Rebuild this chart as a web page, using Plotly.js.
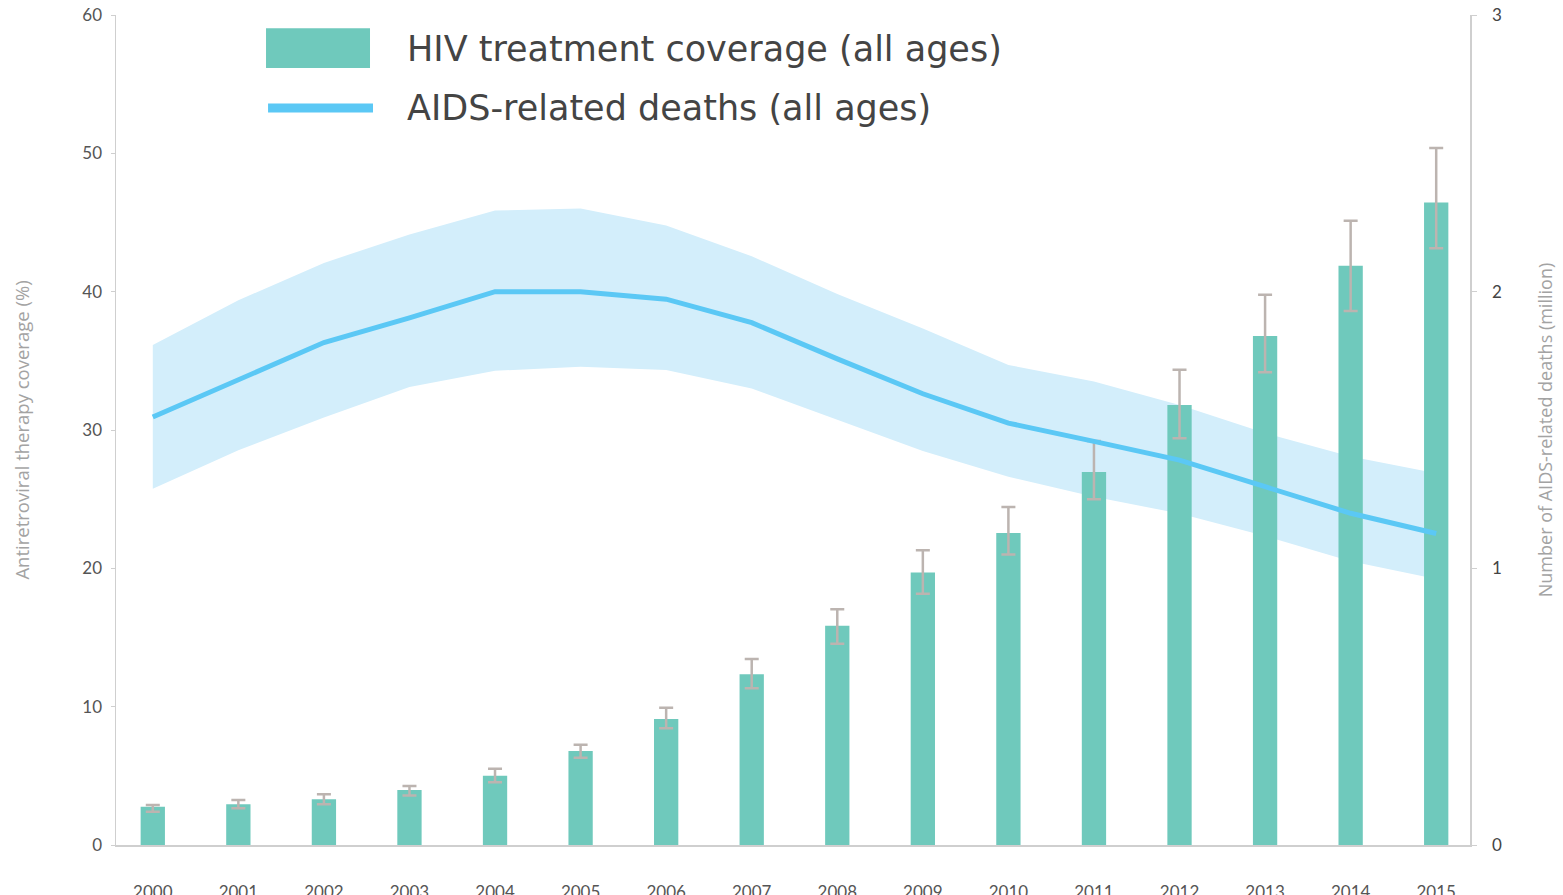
<!DOCTYPE html>
<html>
<head>
<meta charset="utf-8">
<script src="https://cdn.plot.ly/plotly-3.0.1.min.js"></script>
<style>html,body{margin:0;padding:0;background:#fff;}#chart{width:1563px;height:895px;}</style>
</head>
<body>
<div id="chart"></div>
<script>
const years = [2000, 2001, 2002, 2003, 2004, 2005, 2006, 2007, 2008, 2009, 2010, 2011, 2012, 2013, 2014, 2015];
const yearLabels = ["2000", "2001", "2002", "2003", "2004", "2005", "2006", "2007", "2008", "2009", "2010", "2011", "2012", "2013", "2014", "2015"];

// HIV treatment coverage (%), with uncertainty bounds
const coverage     = [2.77, 2.94, 3.30, 3.98, 5.00, 6.80, 9.10, 12.35, 15.85, 19.70, 22.55, 26.97, 31.80, 36.80, 41.87, 46.44];
const coverageHigh = [2.90, 3.26, 3.67, 4.27, 5.52, 7.24, 9.93, 13.44, 17.05, 21.30, 24.43, 29.20, 34.35, 39.77, 45.12, 50.38];
const coverageLow  = [2.40, 2.65, 2.94, 3.57, 4.54, 6.30, 8.44, 11.34, 14.54, 18.16, 21.00, 25.00, 29.40, 34.18, 38.60, 43.14];

// AIDS-related deaths (million), with uncertainty bounds
const deaths     = [1.547, 1.680, 1.816, 1.905, 2.000, 2.000, 1.973, 1.888, 1.757, 1.631, 1.525, 1.459, 1.391, 1.295, 1.199, 1.126];
const deathsHigh = [1.807, 1.969, 2.104, 2.207, 2.293, 2.301, 2.239, 2.128, 1.992, 1.867, 1.735, 1.675, 1.590, 1.489, 1.404, 1.344];
const deathsLow  = [1.288, 1.427, 1.545, 1.655, 1.714, 1.729, 1.717, 1.650, 1.537, 1.424, 1.331, 1.259, 1.198, 1.117, 1.026, 0.961];

const leftTicks = [0, 10, 20, 30, 40, 50, 60];
const rightTicks = [0, 1, 2, 3];

const seriesNames = ["HIV treatment coverage (all ages)", "AIDS-related deaths (all ages)"];
const leftTitle = "Antiretroviral therapy coverage (%)";
const rightTitle = "Number of AIDS-related deaths (million)";

const teal = "#6fc9bc";
const blue = "#5bc8f5";
const band = "#d3eefb";
const errColor = "#bcb4b0";
const axisColor = "#cfcfcf";
const font = "Lato, 'Open Sans', sans-serif";
const titleFont = "'Open Sans', sans-serif";
const legendFont = "'DejaVu Sans', sans-serif";

const traces = [
  {
    x: years, y: deathsHigh, yaxis: "y", type: "scatter", mode: "lines",
    line: {width: 0, color: band}, showlegend: false, hoverinfo: "skip"
  },
  {
    x: years, y: deathsLow, yaxis: "y", type: "scatter", mode: "lines",
    line: {width: 0, color: band}, fill: "tonexty", fillcolor: band,
    showlegend: false, hoverinfo: "skip"
  },
  {
    x: years, y: coverage, yaxis: "y2", type: "bar", name: seriesNames[0],
    width: 0.284,
    marker: {color: teal},
    error_y: {
      type: "data", symmetric: false,
      array: coverageHigh.map((v, i) => v - coverage[i]),
      arrayminus: coverage.map((v, i) => v - coverageLow[i]),
      color: errColor, thickness: 2.5, width: 7
    }
  },
  {
    x: years, y: deaths, yaxis: "y3", type: "scatter", mode: "lines", name: seriesNames[1],
    line: {color: blue, width: 5}
  }
];

const layout = {
  width: 1563, height: 895,
  margin: {l: 116, r: 93, t: 15, b: 50},
  paper_bgcolor: "#ffffff", plot_bgcolor: "#ffffff",
  showlegend: false,
  font: {family: font, color: "#555"},
  xaxis: {
    range: [1999.57, 2015.395],
    tickvals: years, ticktext: yearLabels,
    showline: true, linecolor: axisColor, linewidth: 1.5,
    ticks: "outside", ticklen: 2, tickcolor: "rgba(0,0,0,0)",
    ticklabelstandoff: 29,
    tickfont: {size: 17, color: "#555", family: font},
    showgrid: false, zeroline: false, fixedrange: true
  },
  yaxis: {
    side: "right", range: [0, 3], tickvals: rightTicks,
    showline: true, linecolor: axisColor, linewidth: 1.5,
    ticks: "outside", ticklen: 5, tickcolor: axisColor,
    ticklabelstandoff: 12,
    tickfont: {size: 17, color: "#444", family: font},
    showgrid: false, zeroline: false,
    title: {text: rightTitle, font: {size: 18, color: "#a3a3a3", family: titleFont}, standoff: 38}
  },
  yaxis2: {
    overlaying: "y", side: "left", range: [0, 60], tickvals: leftTicks,
    showline: true, linecolor: axisColor, linewidth: 1.5,
    ticks: "outside", ticklen: 4, tickcolor: axisColor,
    ticklabelstandoff: 5,
    tickfont: {size: 17, color: "#555", family: font},
    showgrid: false, zeroline: false,
    title: {text: leftTitle, font: {size: 18.5, color: "#a3a3a3", family: titleFont}, standoff: 48}
  },
  yaxis3: {
    overlaying: "y", side: "right", range: [0, 3], visible: false
  },
  shapes: [
    {type: "rect", xref: "paper", yref: "paper", x0: 0.1108, x1: 0.1876, y0: 0.936, y1: 0.984,
     fillcolor: teal, line: {width: 0}},
    {type: "line", xref: "paper", yref: "paper", x0: 0.1123, x1: 0.1898, y0: 0.888, y1: 0.888,
     line: {color: blue, width: 9}}
  ],
  annotations: [
    {xref: "paper", yref: "paper", x: 0.2134, y: 0.959, xanchor: "left", yanchor: "middle",
     text: seriesNames[0], showarrow: false, font: {size: 35, color: "#444", family: legendFont}},
    {xref: "paper", yref: "paper", x: 0.2134, y: 0.888, xanchor: "left", yanchor: "middle",
     text: seriesNames[1], showarrow: false, font: {size: 35, color: "#444", family: legendFont}}
  ]
};

Plotly.newPlot("chart", traces, layout, {displayModeBar: false, staticPlot: true});
</script>
</body>
</html>
